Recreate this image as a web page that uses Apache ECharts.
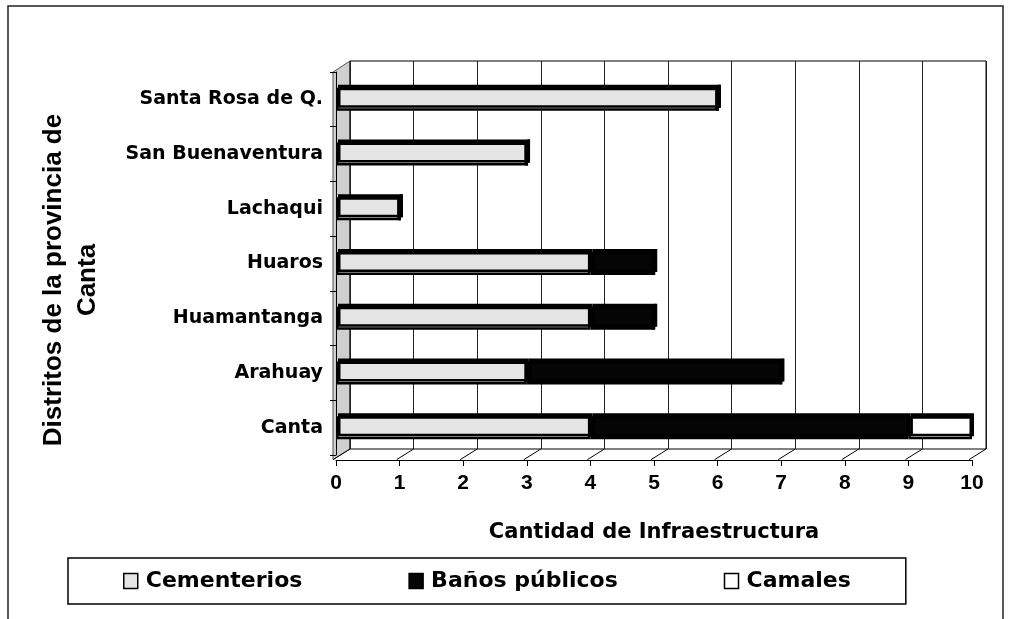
<!DOCTYPE html>
<html>
<head>
<meta charset="utf-8">
<script src="https://cdn.jsdelivr.net/npm/echarts@6/dist/echarts.min.js"></script>
<style>
  html, body { margin: 0; padding: 0; background: #fff; }
  #chartBox { width: 1012px; height: 619px; }
</style>
</head>
<body>
<div id="chartBox"></div>
<script>
const distritos = ["Canta", "Arahuay", "Huamantanga", "Huaros", "Lachaqui", "San Buenaventura", "Santa Rosa de Q."];
const cementerios = [4, 3, 4, 4, 1, 3, 6];
const banos = [5, 4, 1, 1, 0, 0, 0];
const camales = [1, 0, 0, 0, 0, 0, 0];
const xTicks = [0, 1, 2, 3, 4, 5, 6, 7, 8, 9, 10];

const wide = "'DejaVu Sans', Verdana, sans-serif";
const narrow = "'Liberation Sans', Arial, sans-serif";

const chartFun = () => {
  const chartDom = document.getElementById("chartBox");
  const myChart = echarts.init(chartDom);
  const barBase = {
    type: "bar",
    stack: "total",
    barWidth: 23,
    xAxisIndex: 0,
    yAxisIndex: 0,
    emphasis: { disabled: true },
  };
  const barStyle = (c) => ({
    color: c,
    borderColor: "#000",
    borderWidth: 2.5,
    shadowColor: "#000",
    shadowBlur: 0,
    shadowOffsetX: 2,
    shadowOffsetY: -3,
  });
  const option = {
    animation: false,
    textStyle: { fontFamily: wide },
    grid: [
      // front plane: bars and axes
      { left: 336, right: 40, top: 72, bottom: 164 },
      // back wall of the 3D box
      { left: 350, right: 26, top: 61, bottom: 170, show: true, borderColor: "#000", borderWidth: 1 },
    ],
    legend: {
      top: 558,
      left: 68,
      width: 842,
      itemGap: 106,
      padding: [12, 55, 12, 55],
      borderColor: "#000",
      borderWidth: 1.5,
      itemWidth: 14,
      itemHeight: 15,
      icon: "rect",
      itemStyle: { borderColor: "#000", borderWidth: 1.5 },
      textStyle: { fontSize: 22, fontWeight: "bold", color: "#000", fontFamily: wide, padding: [0, 0, 0, 3] },
      data: ["Cementerios", "Baños públicos", "Camales"],
    },
    xAxis: [
      {
        gridIndex: 0,
        type: "value",
        min: 0,
        max: 10,
        interval: 1,
        offset: 5,
        name: "Cantidad de Infraestructura",
        nameLocation: "middle",
        nameGap: 62,
        nameTextStyle: { fontSize: 21, fontWeight: "bold", color: "#000", fontFamily: wide },
        axisLine: { show: true, lineStyle: { color: "#000", width: 1 } },
        axisTick: { show: true, length: 6, lineStyle: { color: "#000" } },
        axisLabel: {
          fontSize: 21, fontWeight: "bold", color: "#000", margin: 13, fontFamily: narrow,
          formatter: (v) => (xTicks.includes(v) ? String(v) : ""),
        },
        splitLine: { show: false },
      },
      {
        gridIndex: 1,
        type: "value",
        min: 0,
        max: 10,
        interval: 1,
        axisLine: { show: false },
        axisTick: { show: false },
        axisLabel: { show: false },
        splitLine: { show: true, lineStyle: { color: "#222", width: 1 } },
      },
    ],
    yAxis: [
      {
        gridIndex: 0,
        type: "category",
        data: distritos,
        offset: 3,
        name: "Distritos de la provincia de\nCanta",
        nameLocation: "middle",
        nameGap: 228,
        nameRotate: 90,
        nameTextStyle: {
          fontSize: 26, fontWeight: "bold", color: "#000", lineHeight: 34, fontFamily: narrow,
          padding: [0, 33, 0, 0],
        },
        axisLine: { show: true, lineStyle: { color: "#000", width: 1 } },
        axisTick: { show: true, length: 6, lineStyle: { color: "#000" } },
        axisLabel: { fontSize: 19, fontWeight: "bold", color: "#000", margin: 10, fontFamily: wide },
      },
      {
        gridIndex: 1,
        type: "category",
        data: distritos,
        show: false,
      },
    ],
    series: [
      Object.assign({}, barBase, { name: "Cementerios", data: cementerios, itemStyle: barStyle("#e4e4e4") }),
      Object.assign({}, barBase, { name: "Baños públicos", data: banos, itemStyle: barStyle("#050505") }),
      Object.assign({}, barBase, { name: "Camales", data: camales, itemStyle: barStyle("#ffffff") }),
    ],
  };
  myChart.setOption(option);

  // 3D box decoration: left wall and floor joining the front axes to the back wall
  const frontY = myChart.convertToPixel({ yAxisIndex: 0 }, distritos[0]) + 27 + 5;
  const backBottom = 619 - 170;
  const backTop = 61;
  const fx = (v) => myChart.convertToPixel({ xAxisIndex: 0 }, v);
  const bx = (v) => myChart.convertToPixel({ xAxisIndex: 1 }, v);
  const frontLeft = fx(0) - 3;
  const deco = [
    {
      type: "rect",
      shape: { x: 8, y: 6, width: 995, height: 640 },
      style: { fill: "none", stroke: "#222", lineWidth: 1.5 },
      silent: true,
    },
    {
      type: "polygon",
      shape: { points: [[frontLeft, frontY], [bx(0), backBottom], [bx(0), backTop], [frontLeft, backTop + 11]] },
      style: { fill: "#cfcfcf", stroke: "#555", lineWidth: 1 },
      silent: true,
      z: -1,
    },
    {
      type: "polyline",
      shape: { points: [[bx(10), backBottom], [fx(10) - 3, frontY]] },
      style: { stroke: "#000", lineWidth: 1 },
      silent: true,
      z: -1,
    },
  ];
  xTicks.slice(0, 10).forEach((v) => {
    deco.push({
      type: "line",
      shape: { x1: fx(v) - 3, y1: frontY, x2: bx(v), y2: backBottom },
      style: { stroke: "#000", lineWidth: 1 },
      silent: true,
      z: -1,
    });
  });
  myChart.setOption({ graphic: deco });
};

chartFun();
</script>
</body>
</html>
